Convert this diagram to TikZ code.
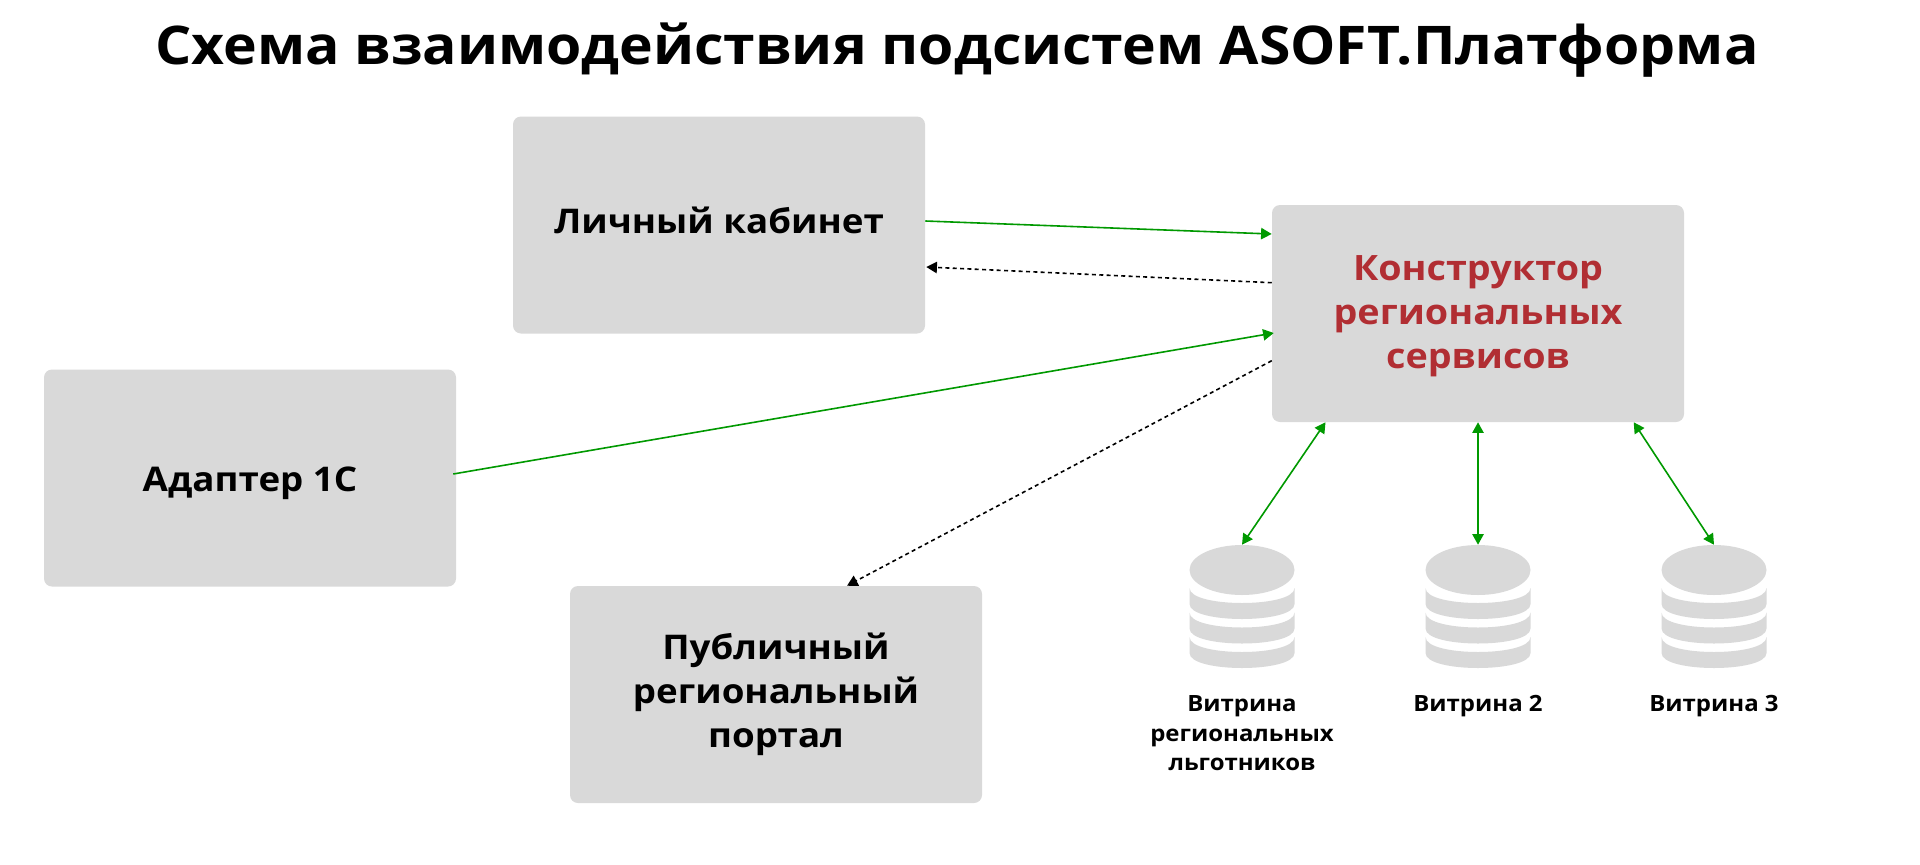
\documentclass[tikz,border=0pt]{standalone}
\usepackage{fontspec}
\setmainfont{Open Sans}
\newfontfamily\ttlfont[FakeStretch=1.07]{Open Sans}
\newfontfamily\boxfont[FakeStretch=1.08]{Open Sans}
\usetikzlibrary{arrows.meta,calc}
\definecolor{boxgray}{HTML}{D9D9D9}
\definecolor{linkgreen}{HTML}{009900}
\definecolor{accentred}{HTML}{B12E33}
\newcommand{\shiftedtext}[2]{\sbox0{\begin{tabular}{@{}c@{}}#2\end{tabular}}\raisebox{#1}[\ht0][\dp0]{\usebox0}}
\tikzset{
  x=0.75pt,y=-0.75pt,
  panel/.style={fill=boxgray,rounded corners=6pt,minimum width=309pt,minimum height=162.75pt,inner sep=0pt,align=center,font=\boxfont\fontsize{25.5}{33}\selectfont\bfseries},
  dbnode/.style={minimum width=78pt,minimum height=91.5pt,inner sep=0pt},
  dblabel/.style={align=center,font=\ttlfont\fontsize{16.8}{22}\selectfont\bfseries},
  solidlink/.style={linkgreen,line width=1.2pt,-{Triangle[length=8pt,width=8.5pt]}},
  bothlink/.style={linkgreen,line width=1.2pt,{Triangle[length=8pt,width=8.5pt]}-{Triangle[length=8pt,width=8.5pt]}},
  dashlink/.style={black,line width=1.2pt,dash pattern=on 3pt off 2.5pt,-{Triangle[length=8pt,width=8.5pt]}},
  dbstack/.pic={
    \fill[boxgray] (0,-36) ellipse [x radius=52.5,y radius=25];
    \foreach \dy in {0,24.5,49}{
      \fill[boxgray] (-52.5,{-18+\dy}) -- (-52.5,{-2+\dy})
        .. controls (-52.5,{18+\dy}) and (52.5,{18+\dy}) .. (52.5,{-2+\dy})
        -- (52.5,{-18+\dy})
        .. controls (52.5,{2+\dy}) and (-52.5,{2+\dy}) .. cycle;
    }
  }
}
\begin{document}
\begin{tikzpicture}
\useasboundingbox (0,0) rectangle (1920,864);
\fill[white] (0,0) rectangle (1920,864);
\node (title) at (957,50) {\ttlfont\fontsize{40}{48}\selectfont\bfseries Схема взаимодействия подсистем ASOFT.Платформа};
\node[panel] (lk) at (719,225) {\shiftedtext{0pt}{Личный кабинет}};
\node[panel,text=accentred,font=\boxfont\fontsize{26.2}{33}\selectfont\bfseries] (kr) at (1478,313.5) {\shiftedtext{-1.8pt}{Конструктор\\региональных\\сервисов}};
\node[panel] (ad) at (250,478) {\shiftedtext{-3.7pt}{Адаптер 1С}};
\node[panel] (pub) at (776,694.5) {\shiftedtext{0pt}{Публичный\\региональный\\портал}};
\node[dbnode] (db1) at (1242,606) {};
\node[dbnode] (db2) at (1478,606) {};
\node[dbnode] (db3) at (1714,606) {};
\pic at (db1.center) {dbstack};
\pic at (db2.center) {dbstack};
\pic at (db3.center) {dbstack};
\node[dblabel,anchor=north] (l1) at (1242,691) {Витрина\\региональных\\льготников};
\node[dblabel,anchor=north] (l2) at (1478,691) {Витрина 2};
\node[dblabel,anchor=north] (l3) at (1714,691) {Витрина 3};
\draw[solidlink] ($(lk.east)+(0,-4)$) -- ($(kr.west)+(0,-79.5)$);
\draw[dashlink] ($(kr.west)+(0,-30.8)$) -- ($(lk.east)+(1,42)$);
\draw[solidlink] ($(ad.east)+(-3,-4)$) -- ($(kr.west)+(2,19.5)$);
\draw[dashlink] ($(kr.west)+(0,47.2)$) -- ($(pub.north)+(71,0)$);
\draw[bothlink] ($(kr.south)+(-152.5,0)$) -- (db1.north);
\draw[bothlink] (kr.south) -- (db2.north);
\draw[bothlink] ($(kr.south)+(155.7,0)$) -- (db3.north);
\end{tikzpicture}
\end{document}
